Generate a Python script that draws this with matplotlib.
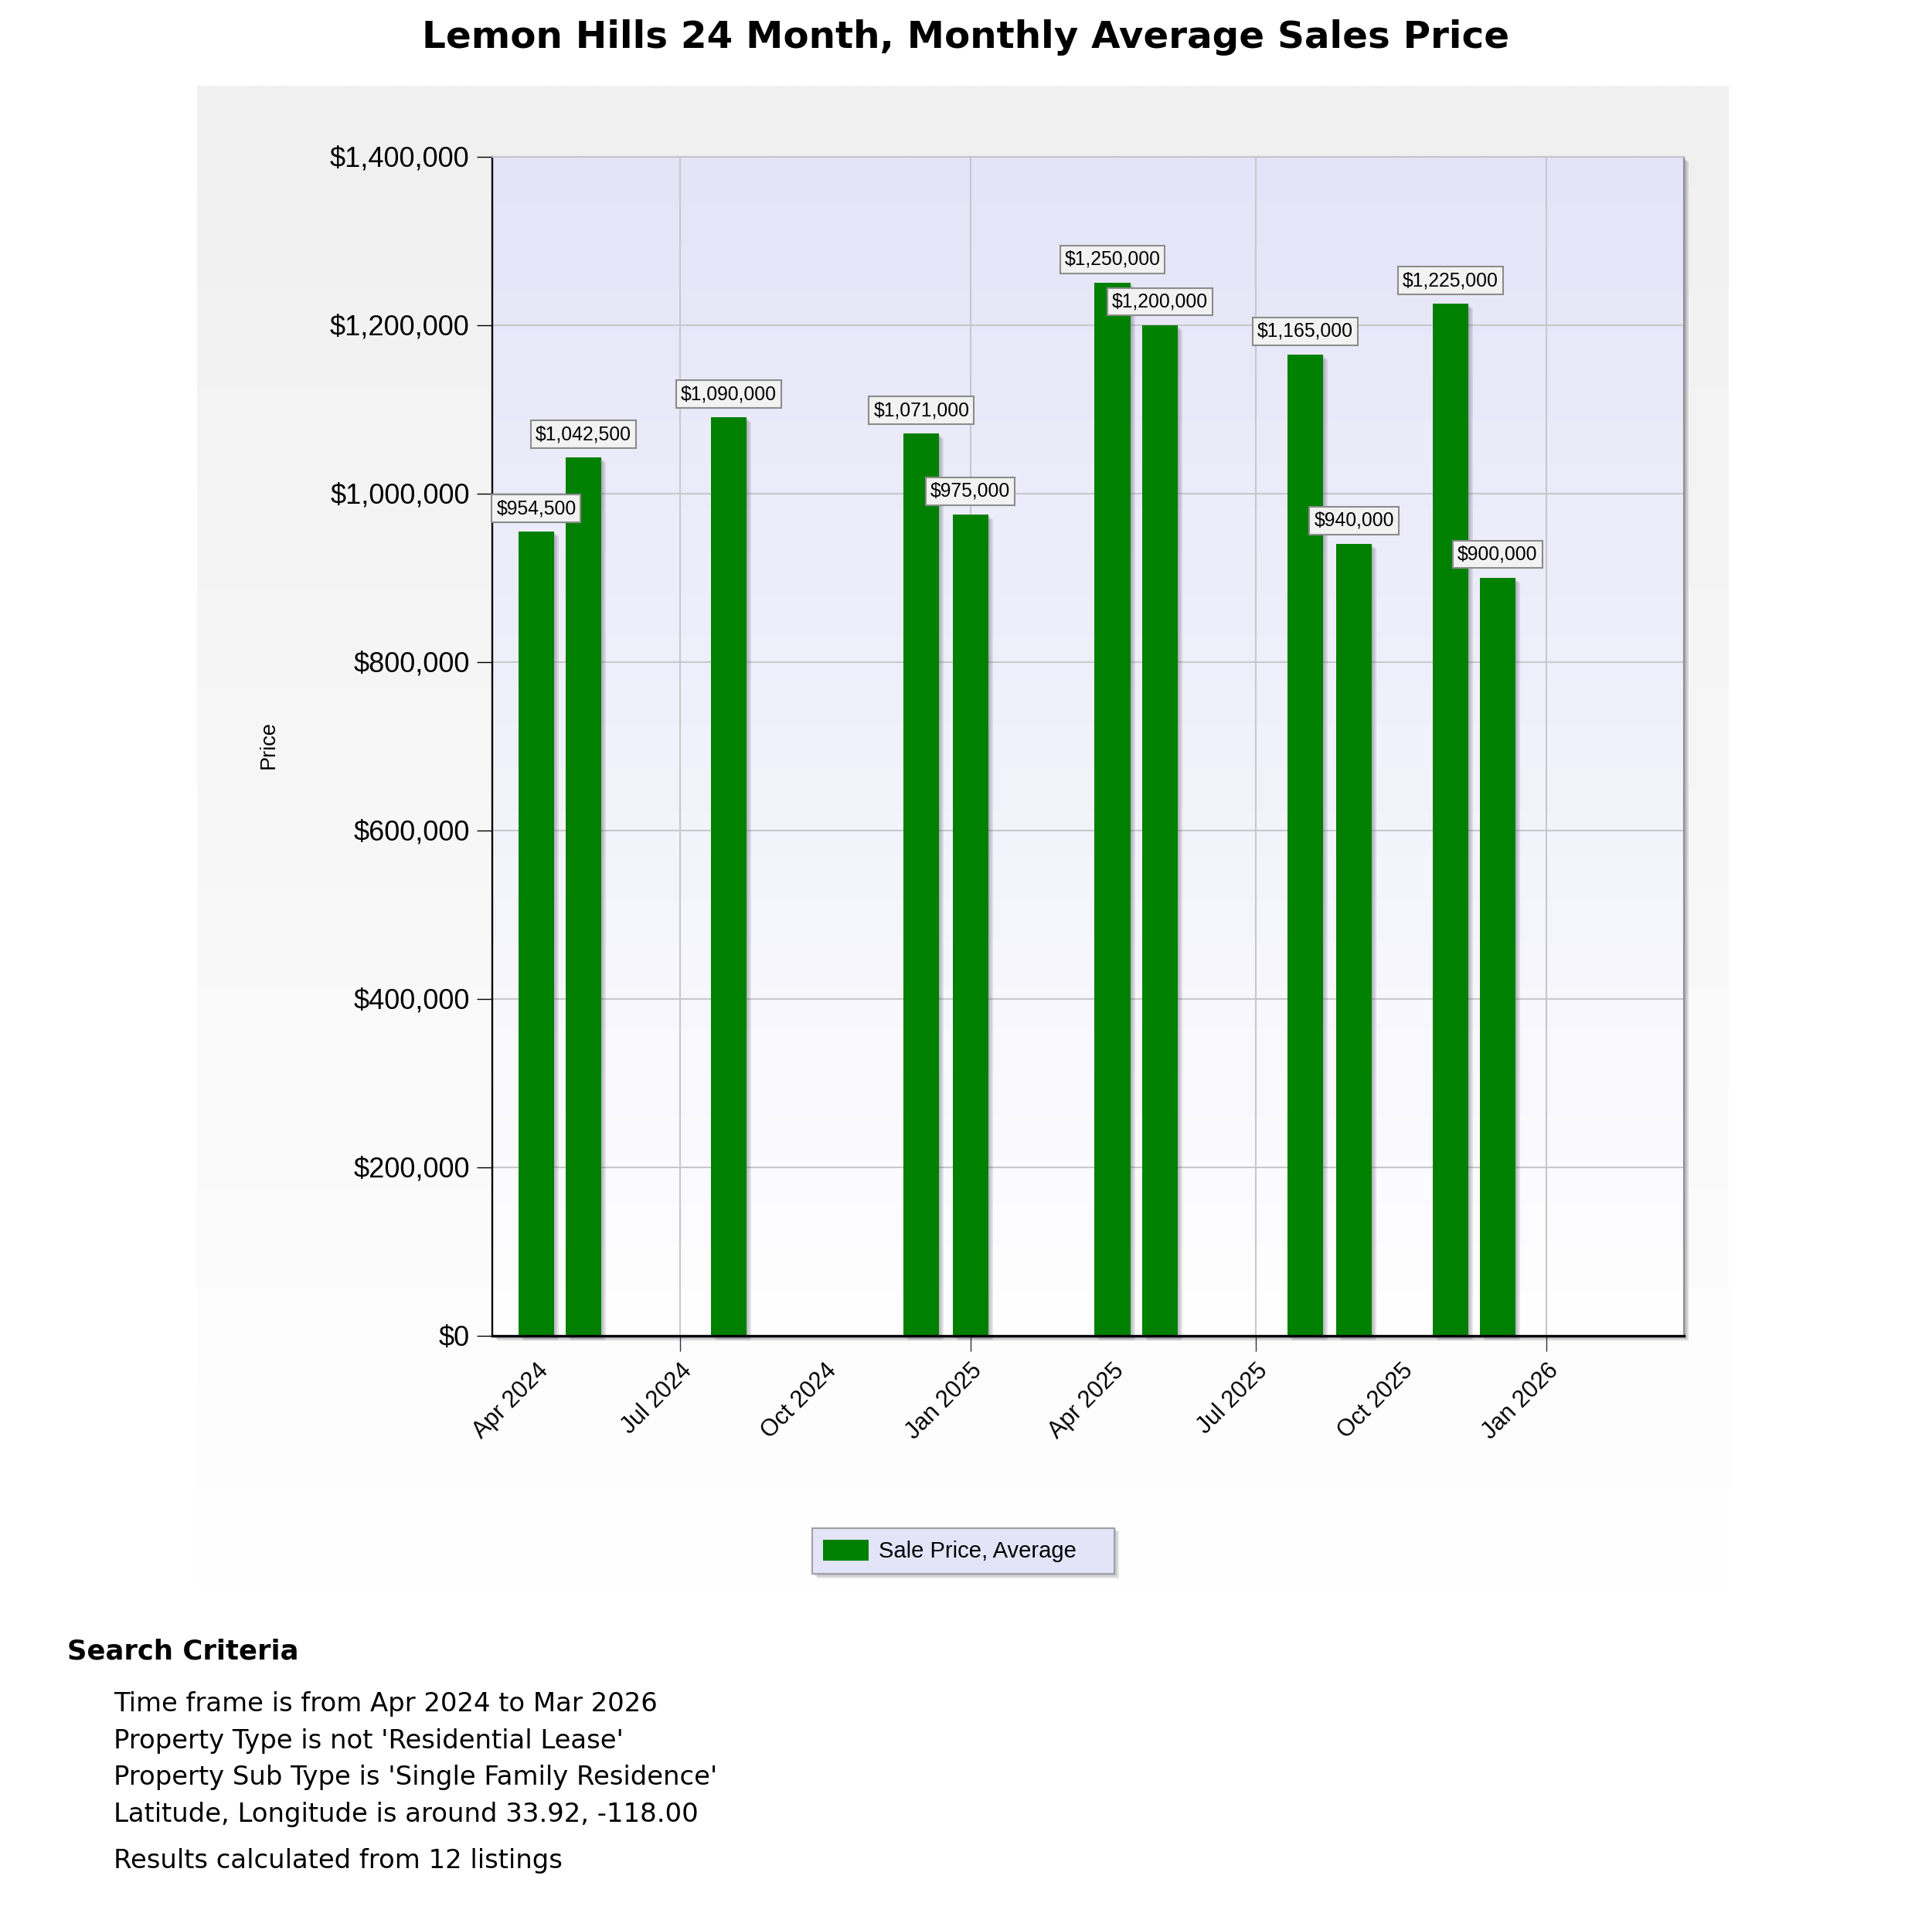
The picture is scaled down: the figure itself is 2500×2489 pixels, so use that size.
import numpy as np
import matplotlib
matplotlib.use("Agg")
import matplotlib.pyplot as plt
import matplotlib.dates as mdates
from matplotlib.patches import Rectangle
from matplotlib.transforms import offset_copy
import datetime as dt

# ---------------- data ----------------
months = ["2024-04", "2024-05", "2024-08", "2024-12", "2025-01", "2025-04",
          "2025-05", "2025-08", "2025-09", "2025-11", "2025-12"]
avg_price = [954500, 1042500, 1090000, 1071000, 975000, 1250000,
             1200000, 1165000, 940000, 1225000, 900000]
series_name = "Sale Price, Average"
title = "Lemon Hills 24 Month, Monthly Average Sales Price"
y_ticks = [0, 200000, 400000, 600000, 800000, 1000000, 1200000, 1400000]
criteria_head = "Search Criteria"
criteria_lines = ["Time frame is from Apr 2024 to Mar 2026",
                  "Property Type is not 'Residential Lease'",
                  "Property Sub Type is 'Single Family Residence'",
                  "Latitude, Longitude is around 33.92, -118.00"]
results_line = "Results calculated from 12 listings"

dates = [dt.datetime.strptime(m, "%Y-%m") for m in months]

plt.rcParams['font.family'] = ['Liberation Sans', 'DejaVu Sans']

W, H = 2500, 2489
fig = plt.figure(figsize=(W / 100, H / 100), dpi=100)
fig.patch.set_facecolor('white')

def fx(px):
    return px / W

def fy(py):
    return 1 - py / H

# outer panel with vertical gradient
p_l, p_r, p_t, p_b = 255, 2237, 111, 2060
bg = fig.add_axes([fx(p_l), fy(p_b), fx(p_r - p_l), (p_b - p_t) / H], zorder=-10)
g = np.linspace(0, 1, 256)[:, None]
top_c = np.array([240, 240, 240]) / 255
bot_c = np.array([255, 255, 255]) / 255
grad = top_c[None, None, :] * (1 - g[..., None]) + bot_c[None, None, :] * g[..., None]
bg.imshow(grad, aspect='auto', extent=(0, 1, 0, 1), interpolation='bilinear')
bg.set_axis_off()

# plot area
a_l, a_r, a_t, a_b = 636.7, 2179.0, 202.5, 1728.5
pos = [fx(a_l), fy(a_b), fx(a_r - a_l), (a_b - a_t) / H]

# plot area shadow
for k, al in [(2, 0.20), (4, 0.20), (6, 0.20)]:
    fig.add_artist(Rectangle((fx(a_l + k), fy(a_b + k)), fx(a_r - a_l), (a_b - a_t) / H,
                             transform=fig.transFigure, facecolor='#606070', alpha=al,
                             edgecolor='none', zorder=-7))

pbg = fig.add_axes(pos, zorder=-5)
top_c2 = np.array([228, 228, 248]) / 255
grad2 = top_c2[None, None, :] * (1 - g[..., None]) + bot_c[None, None, :] * g[..., None]
pbg.imshow(grad2, aspect='auto', extent=(0, 1, 0, 1), interpolation='bilinear')
pbg.set_axis_off()

ax = fig.add_axes(pos)
ax.patch.set_alpha(0)

bar_w = 22.6
# bar shadows
for k in (2, 4, 6):
    ax.bar(dates, avg_price, width=bar_w, color='#404050', alpha=0.13, linewidth=0,
           transform=offset_copy(ax.transData, fig=fig, x=k, y=-k, units='dots'),
           zorder=1.5, clip_on=False)
bars = ax.bar(dates, avg_price, width=bar_w, color='#008000', linewidth=0, zorder=2,
              label=series_name)

for d, v in zip(dates, avg_price):
    ax.annotate(f"${v:,.0f}", xy=(d, v), xytext=(0, 21.6), textcoords='offset points',
                ha='center', va='center', fontsize=17.8, zorder=6,
                bbox=dict(boxstyle='square,pad=0.24', fc='#f2f2f2', ec='#8c8c8c', lw=1.5))

x0 = dt.datetime(2024, 4, 1) - dt.timedelta(days=28)
x1 = dt.datetime(2026, 3, 1) + dt.timedelta(days=28)
ax.set_xlim(x0, x1)
ax.set_ylim(0, 1400000)

ax.set_yticks(y_ticks)
ax.set_yticklabels([f"${t:,.0f}" for t in y_ticks])
ax.tick_params(axis='y', length=14.4, width=1, pad=6.5, labelsize=26, color='black')

ax.xaxis.set_major_locator(mdates.MonthLocator(bymonth=[1, 4, 7, 10]))
ax.xaxis.set_major_formatter(mdates.DateFormatter('%b %Y'))
ax.xaxis.set_minor_locator(mdates.MonthLocator(bymonth=[1, 7]))
ax.xaxis.remove_overlapping_locs = False
ax.tick_params(axis='x', which='major', length=0, pad=22, labelsize=22)
ax.tick_params(axis='x', which='minor', length=14.4, width=1, color='#333333')
for lbl in ax.get_xticklabels():
    lbl.set_rotation(45)
    lbl.set_ha('right')
    lbl.set_va('top')
    lbl.set_rotation_mode('anchor')

ax.grid(which='major', axis='y', color='#c8c8cc', linewidth=1.5, zorder=0)
ax.grid(which='minor', axis='x', color='#c8c8cc', linewidth=1.5, zorder=0)
ax.set_axisbelow(True)

ax.spines['left'].set_color('black')
ax.spines['left'].set_linewidth(1.7)
ax.spines['bottom'].set_color('black')
ax.spines['bottom'].set_linewidth(2.4)
ax.spines['top'].set_color('#c4c4cc')
ax.spines['top'].set_linewidth(1.5)
ax.spines['right'].set_color('#909098')
ax.spines['right'].set_linewidth(1.5)

ax.set_ylabel("Price", fontsize=19.5)
ax.yaxis.set_label_coords((348 - a_l) / (a_r - a_l), (a_b - 964) / (a_b - a_t))
ax.yaxis.label.set_va('center')

# legend
lg_l, lg_r, lg_t, lg_b = 1050.7, 1441.7, 1976.0, 2036.7
leg = ax.legend(handles=[bars], labels=[series_name], loc='lower left',
                bbox_to_anchor=(fx(lg_l), fy(lg_b), fx(lg_r - lg_l), (lg_b - lg_t) / H),
                bbox_transform=fig.transFigure, mode='expand', fontsize=21,
                frameon=True, fancybox=False, facecolor='#e4e4f8', edgecolor='#a0a0a8',
                framealpha=1, borderpad=0.5, handlelength=2.0, handleheight=1.05,
                handletextpad=0.45, borderaxespad=0)
leg.get_frame().set_linewidth(1.5)
for k in (2, 4, 6):
    fig.add_artist(Rectangle((fx(lg_l + k), fy(lg_b + k)), fx(lg_r - lg_l), (lg_b - lg_t) / H,
                             transform=fig.transFigure, facecolor='#606070', alpha=0.15,
                             edgecolor='none', zorder=-1))

# title
fig.text(0.5, fy(62), title, ha='center', va='baseline', fontsize=34.8,
         fontweight='bold', family=['DejaVu Sans'])

# search criteria
fig.text(fx(86.8), fy(2148), criteria_head, ha='left', va='baseline', fontsize=25.5,
         fontweight='bold', family=['DejaVu Sans'])
baselines = [2215, 2263, 2310, 2358]
for yb, line in zip(baselines, criteria_lines):
    fig.text(fx(147), fy(yb), line, ha='left', va='baseline', fontsize=24.4,
             family=['DejaVu Sans'])
fig.text(fx(147), fy(2418), results_line, ha='left', va='baseline', fontsize=24.4,
         family=['DejaVu Sans'])

fig.savefig("out.png", dpi=100)
